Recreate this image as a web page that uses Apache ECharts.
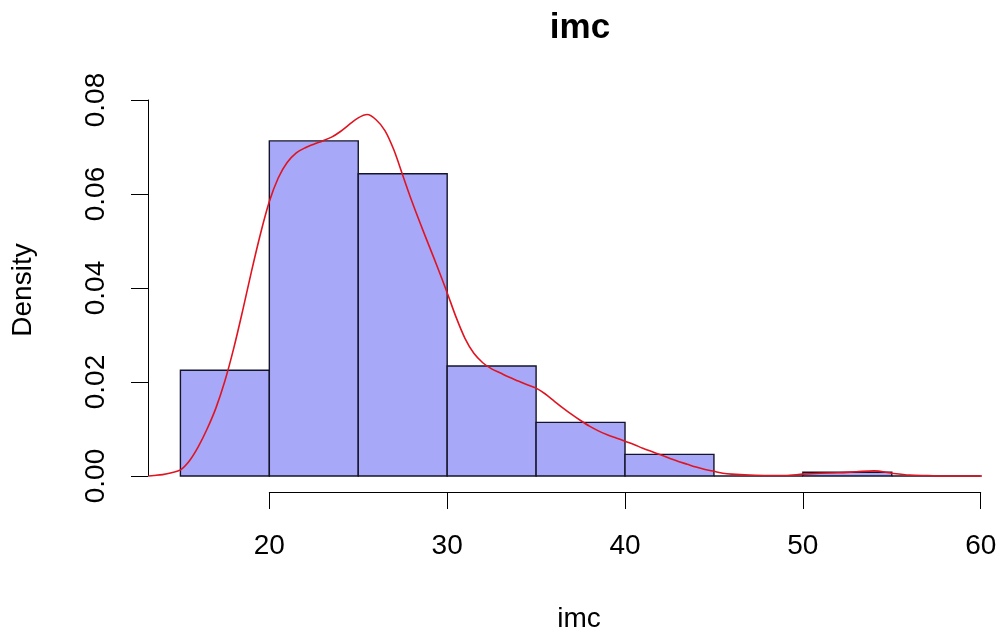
<!DOCTYPE html>
<html>
<head>
<meta charset="utf-8">
<script src="https://cdn.jsdelivr.net/npm/echarts@6/dist/echarts.min.js"></script>
<style>
  html, body { margin: 0; padding: 0; background: #ffffff; }
  #chart { width: 1004px; height: 641px; }
</style>
</head>
<body>
<div id="chart"></div>
<script>
// ---- data ----
const binStarts = [15, 20, 25, 30, 35, 40, 45, 50, 55];
const binEnds   = [20, 25, 30, 35, 40, 45, 50, 55, 60];
const binDensity = [0.0225, 0.0713, 0.0643, 0.0234, 0.0114, 0.0046, 0.0000, 0.0008, 0.0000];

const curveX = [13.2, 13.5, 14.0, 14.5, 15.0, 15.5, 16.0, 16.5, 17.0, 17.5, 18.0, 18.5, 19.0, 19.5, 20.0, 20.5, 21.0, 21.5, 22.0, 22.5, 23.0, 23.5, 24.0, 24.5, 25.0, 25.5, 26.0, 26.5, 27.0, 27.5, 28.0, 28.5, 29.0, 29.5, 30.0, 30.5, 31.0, 31.5, 32.0, 32.5, 33.0, 33.5, 34.0, 34.5, 35.0, 35.5, 36.0, 36.5, 37.0, 37.5, 38.0, 38.5, 39.0, 39.5, 40.0, 40.5, 41.0, 41.5, 42.0, 42.5, 43.0, 43.5, 44.0, 44.5, 45.0, 45.5, 46.0, 47.0, 48.0, 49.0, 50.0, 51.0, 52.0, 53.0, 54.0, 55.0, 56.0, 57.0, 58.0, 60.0, 61.8];
const curveY = [0.0000, 0.0001, 0.0003, 0.0007, 0.0013, 0.0032, 0.0062, 0.0100, 0.0145, 0.0202, 0.0272, 0.0352, 0.0436, 0.0515, 0.0584, 0.0634, 0.0667, 0.0687, 0.0698, 0.0706, 0.0713, 0.0721, 0.0733, 0.0748, 0.0762, 0.0769, 0.0758, 0.0735, 0.0694, 0.0640, 0.0586, 0.0536, 0.0488, 0.0440, 0.0390, 0.0338, 0.0293, 0.0261, 0.0241, 0.0228, 0.0219, 0.0210, 0.0202, 0.0194, 0.0187, 0.0175, 0.0160, 0.0145, 0.0131, 0.0118, 0.0106, 0.0096, 0.0088, 0.0081, 0.0074, 0.0067, 0.0059, 0.0052, 0.0045, 0.0038, 0.0031, 0.0025, 0.0019, 0.0014, 0.0010, 0.0006, 0.0004, 0.0002, 0.0001, 0.0001, 0.0004, 0.0006, 0.0007, 0.0009, 0.0011, 0.0006, 0.0002, 0.0001, 0.0000, 0.0000, 0.0000];

const xTickMin = 20, xTickMax = 60, xTickStep = 10;
const yTickMin = 0, yTickMax = 0.08, yTickStep = 0.02;

const titleText = 'imc';
const xLabelText = 'imc';
const yLabelText = 'Density';

// ---- chart ----
const FONT = '"Liberation Sans", Arial, sans-serif';
const chart = echarts.init(document.getElementById('chart'), null, { renderer: 'canvas' });

const histData = binStarts.map((s, i) => [s, binEnds[i], binDensity[i]]);
const curveData = curveX.map((x, i) => [x, curveY[i]]);

const option = {
  backgroundColor: '#ffffff',
  animation: false,
  grid: [
    { left: 148.4, right: 23.3, top: 100, bottom: 165 },           // data area (13.2 .. 60)
    { left: 269.3, right: 23.3, bottom: 149, height: 1 },          // x axis
    { left: 148, width: 1, top: 100, bottom: 165 }                 // y axis
  ],
  xAxis: [
    { gridIndex: 0, type: 'value', min: 13.2, max: 60, show: false },
    { gridIndex: 1, type: 'value', min: xTickMin, max: xTickMax, interval: xTickStep,
      position: 'bottom',
      axisLine: { show: true, lineStyle: { color: '#000', width: 1 } },
      axisTick: { show: true, length: 17, lineStyle: { color: '#000', width: 1 } },
      axisLabel: { show: true, color: '#000', fontSize: 28, fontFamily: FONT, margin: 40 },
      splitLine: { show: false } },
    { gridIndex: 2, type: 'value', show: false }
  ],
  yAxis: [
    { gridIndex: 0, type: 'value', min: 0, max: 0.08, show: false },
    { gridIndex: 1, type: 'value', show: false },
    { gridIndex: 2, type: 'value', min: yTickMin, max: yTickMax, interval: yTickStep,
      position: 'left',
      axisLine: { show: true, lineStyle: { color: '#000', width: 1 } },
      axisTick: { show: true, length: 17, lineStyle: { color: '#000', width: 1 } },
      axisLabel: { show: true, color: '#000', fontSize: 28, fontFamily: FONT, rotate: 90, margin: 38,
        formatter: v => v.toFixed(2) },
      splitLine: { show: false } }
  ],
  graphic: [
    { type: 'text', x: 580, y: 28, style: { text: titleText, font: 'bold 35px ' + FONT, fill: '#000', textAlign: 'center', textVerticalAlign: 'middle' } },
    { type: 'text', x: 579, y: 619, style: { text: xLabelText, font: '28px ' + FONT, fill: '#000', textAlign: 'center', textVerticalAlign: 'middle' } },
    { type: 'text', x: 23, y: 290, rotation: Math.PI / 2, style: { text: yLabelText, font: '28px ' + FONT, fill: '#000', textAlign: 'center', textVerticalAlign: 'middle' } }
  ],
  series: [
    {
      type: 'custom',
      xAxisIndex: 0, yAxisIndex: 0,
      data: histData,
      clip: false,
      renderItem: function (params, api) {
        const p0 = api.coord([api.value(0), api.value(2)]);
        const p1 = api.coord([api.value(1), 0]);
        return {
          type: 'rect',
          shape: { x: p0[0], y: p0[1], width: p1[0] - p0[0], height: p1[1] - p0[1] },
          style: { fill: '#a8a8f8', stroke: '#14142a', lineWidth: 1.4 }
        };
      },
      z: 2
    },
    {
      type: 'line',
      xAxisIndex: 0, yAxisIndex: 0,
      data: curveData,
      showSymbol: false,
      smooth: 0.3,
      clip: false,
      lineStyle: { color: '#e01420', width: 1.6 },
      z: 3
    },
    { type: 'line', xAxisIndex: 1, yAxisIndex: 1, data: [] },
    { type: 'line', xAxisIndex: 2, yAxisIndex: 2, data: [] }
  ]
};
chart.setOption(option);
</script>
</body>
</html>
